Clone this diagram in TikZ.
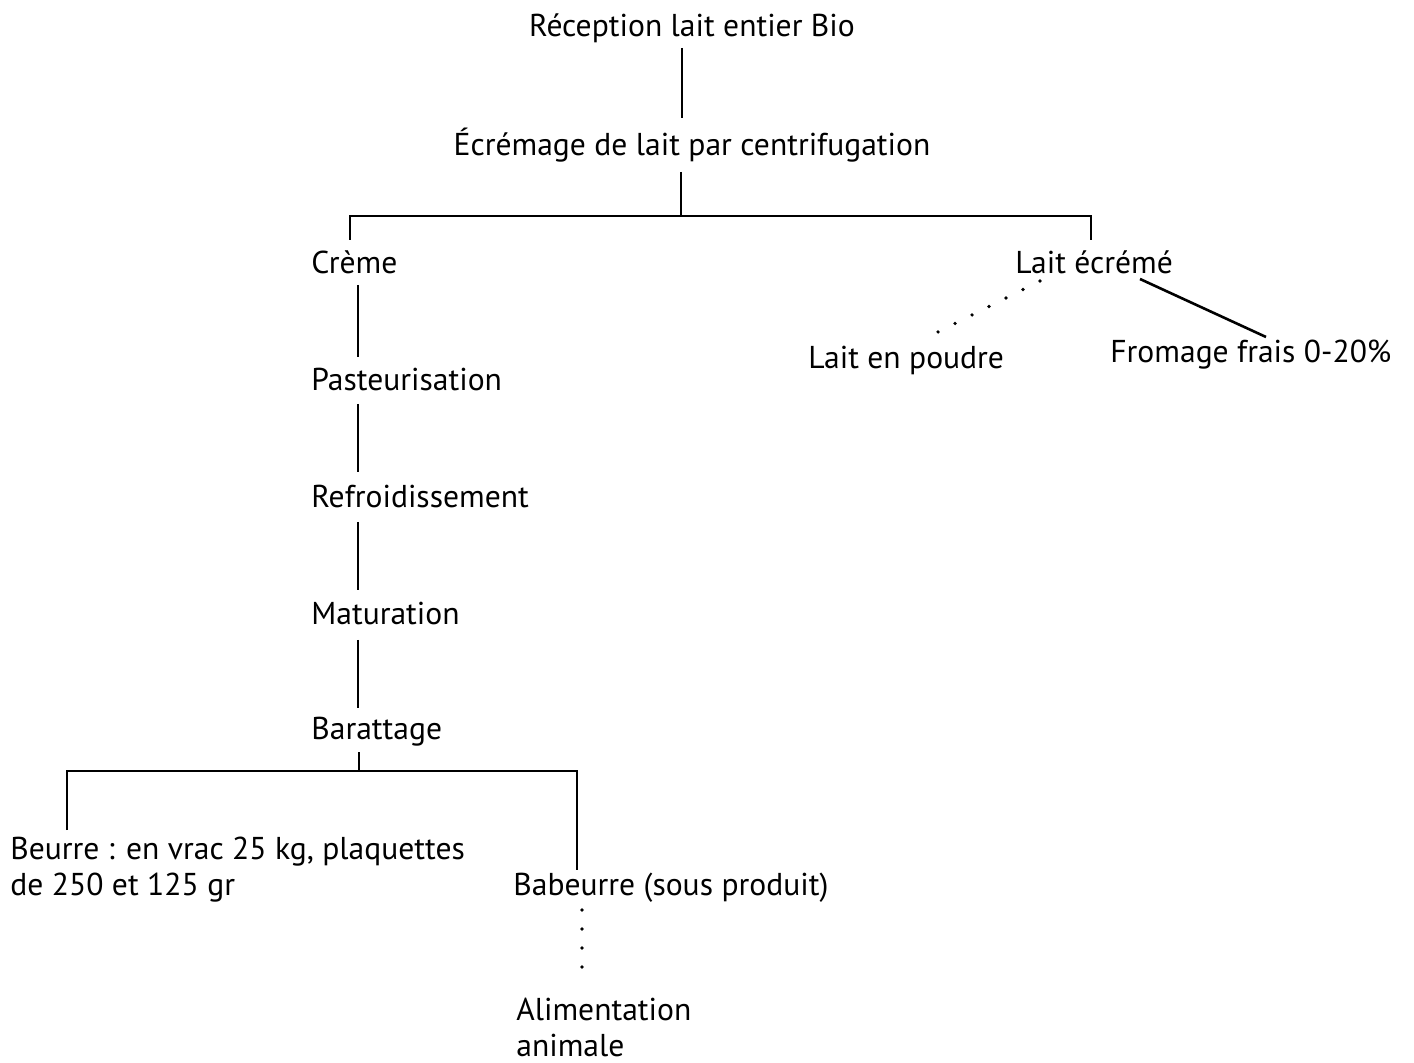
\documentclass[tikz,border=0pt]{standalone}
\usepackage{fontspec}
\setmainfont{PT Sans}
\begin{document}
\begin{tikzpicture}[x=0.5pt,y=-0.5pt,
  lbl/.style={inner sep=0pt, font=\fontsize{15.8}{18}\selectfont, align=left},
  link/.style={line width=1.3pt},
  dotlink/.style={line width=1.8pt, line cap=round, dash pattern=on 0pt off 9.5pt}]
\useasboundingbox (0,0) rectangle (1414,1063);
\node[lbl] (rec) at (692,28) {Réception lait entier Bio};
\node[lbl] (ecr) at (692,145) {Écrémage de lait par centrifugation};
\node[lbl,anchor=west] (cre) at (311,262) {Crème};
\node[lbl,anchor=west] (lec) at (1015,262) {Lait écrémé};
\node[lbl,anchor=west] (lep) at (808,360) {Lait en poudre};
\node[lbl,anchor=west] (fro) at (1110,355) {Fromage frais 0-20\%};
\node[lbl,anchor=west] (pas) at (311,380) {Pasteurisation};
\node[lbl,anchor=west] (ref) at (311,497) {Refroidissement};
\node[lbl,anchor=west] (mat) at (311,614) {Maturation};
\node[lbl,anchor=west] (bar) at (311,732) {Barattage};
\node[lbl,anchor=west] (beu) at (10,870) {Beurre : en vrac 25 kg, plaquettes\\de 250 et 125 gr};
\node[lbl,anchor=west] (bab) at (513,888) {Babeurre (sous produit)};
\node[lbl,anchor=west] (ali) at (516,1027) {Alimentation\\animale};
% connectors
\coordinate (s1) at (681,216);
\coordinate (s2) at (359,771);
\draw[link] (682,48) -- (682,118);
\draw[link] (681,172) -- (s1);
\draw[link] (350,240) -- (350,216) -- (1091,216) -- (1091,240);
\draw[link] (358,285) -- (358,357);
\draw[link] (358,404) -- (358,472);
\draw[link] (358,522) -- (358,590);
\draw[link] (358,640) -- (358,708);
\draw[link] (359,752) -- (s2);
\draw[link] (67,830) -- (67,771) -- (577,771) -- (577,870);
\draw[dotlink] (1040,281) -- (938,332);
\draw[link] (1140,279) -- (1266,337);
\draw[dotlink] (582,910) -- (582,968);
\end{tikzpicture}
\end{document}
